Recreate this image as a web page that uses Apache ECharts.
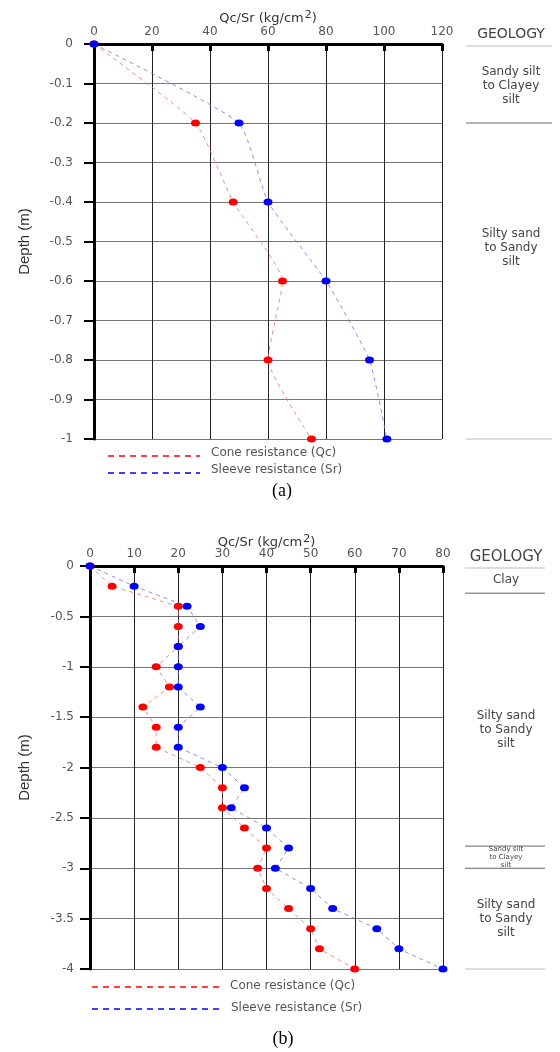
<!DOCTYPE html>
<html>
<head>
<meta charset="utf-8">
<script src="https://cdn.jsdelivr.net/npm/echarts@6/dist/echarts.min.js"></script>
<style>
  html, body { margin: 0; padding: 0; background: #fff; }
  #main { width: 560px; height: 1052px; }
</style>
</head>
<body>
<div id="main"></div>
<script>
// chart (a)
var depthA = [0, -0.2, -0.4, -0.6, -0.8, -1];
var qcA = [0, 35, 48, 65, 60, 75];
var srA = [0, 50, 60, 80, 95, 101];
var geoBoundsA = [0, -0.2, -1];
var geoNamesA = ['Sandy silt\nto Clayey\nsilt', 'Silty sand\nto Sandy\nsilt'];
var geoLabelDepthA = [-0.105, -0.515];

// chart (b)
var depthB = [0, -0.2, -0.4, -0.6, -0.8, -1, -1.2, -1.4, -1.6, -1.8, -2,
              -2.2, -2.4, -2.6, -2.8, -3, -3.2, -3.4, -3.6, -3.8, -4];
var qcB = [0, 5, 20, 20, 20, 15, 18, 12, 15, 15, 25, 30, 30, 35, 40, 38, 40, 45, 50, 52, 60];
var srB = [0, 10, 22, 25, 20, 20, 20, 25, 20, 20, 30, 35, 32, 40, 45, 42, 50, 55, 65, 70, 80];
var geoBoundsB = [0, -0.27, -2.78, -3.0, -4];
var geoNamesB = ['Clay', 'Silty sand\nto Sandy\nsilt', 'Sandy silt\nto Clayey\nsilt', 'Silty sand\nto Sandy\nsilt'];
var geoLabelDepthB = [-0.14, -1.63, -2.89, -3.5];

var seriesNames = ['Cone resistance (Qc)', 'Sleeve resistance (Sr)'];

var font = 'DejaVu Sans';
var myChart = echarts.init(document.getElementById('main'));

function pairs(xs, ys) {
    return xs.map(function (v, i) { return [v, ys[i]]; });
}

function xAx(idx, max, interval, gap) {
    return {
        type: 'value', gridIndex: idx, position: 'top', min: 0, max: max, interval: interval,
        name: 'Qc/Sr (kg/cm{sup|2})', nameLocation: 'middle', nameGap: gap, nameMoveOverlap: false,
        nameTextStyle: {
            color: '#333', fontSize: 13, fontFamily: font,
            rich: { sup: { fontSize: 11, fontFamily: font, color: '#333', padding: [0, 0, 6, 1] } }
        },
        axisLine: { show: true, onZero: false, lineStyle: { color: '#000', width: 3 } },
        axisTick: { show: true, inside: true, length: 7, lineStyle: { color: '#000', width: 3 } },
        axisLabel: { color: '#555', fontSize: 12, fontFamily: font, margin: 6 },
        splitLine: { show: true, lineStyle: { color: '#222', width: 1 } }
    };
}

function yAx(idx, min, interval, gap, margin) {
    return {
        type: 'value', gridIndex: idx, min: min, max: 0, interval: interval,
        name: 'Depth (m)', nameLocation: 'middle', nameGap: gap, nameRotate: 90,
        nameTextStyle: { color: '#333', fontSize: 15, fontFamily: 'Liberation Sans' },
        axisLine: { show: true, onZero: false, lineStyle: { color: '#000', width: 3 } },
        axisTick: { show: true, length: 10, lineStyle: { color: '#000', width: 2 } },
        axisLabel: {
            color: '#555', fontSize: 12, fontFamily: font, margin: margin,
            formatter: function (v) { return String(Math.round(v * 10) / 10); }
        },
        splitLine: { show: true, lineStyle: { color: '#777', width: 1 } }
    };
}

function ser(idx, xs, ys, color, lineColor, smooth) {
    return {
        type: 'line', xAxisIndex: idx, yAxisIndex: idx,
        data: pairs(xs, ys), smooth: smooth, clip: false,
        symbol: 'circle', symbolSize: [9, 7],
        itemStyle: { color: color },
        lineStyle: { color: lineColor, width: 0.8, type: [4, 4] }
    };
}

var option = {
    animation: false,
    backgroundColor: '#fff',
    grid: [
        { left: 94, top: 44, width: 348, height: 395 },
        { left: 90, top: 566, width: 353, height: 403 }
    ],
    xAxis: [xAx(0, 120, 20, 17), xAx(1, 80, 10, 15)],
    yAxis: [yAx(0, -1, 0.1, 62, 21), yAx(1, -4, 0.5, 58, 16)],
    series: [
        ser(0, qcA, depthA, '#f00', '#e87070', 0.15),
        ser(0, srA, depthA, '#00f', '#7070e8', 0.15),
        ser(1, qcB, depthB, '#f00', '#e87070', false),
        ser(1, srB, depthB, '#00f', '#7070e8', false)
    ]
};
myChart.setOption(option);

// geology column, legend and captions
function txt(text, x, y, size, align, fam, color) {
    return {
        type: 'text', silent: true,
        style: {
            text: text, x: x, y: y, fill: color || '#444',
            font: size + 'px ' + (fam || font), lineHeight: Math.round(size * 1.2),
            align: align || 'center', verticalAlign: 'middle',
            textAlign: align || 'center', textVerticalAlign: 'middle'
        }
    };
}
function ln(x1, y1, x2, y2, color, w, dash) {
    return {
        type: 'line', silent: true,
        shape: { x1: x1, y1: y1, x2: x2, y2: y2 },
        style: { stroke: color, lineWidth: w || 1, lineDash: dash || null }
    };
}

function geology(idx, bounds, names, labelDepths, x1, x2, cx, headerY, headSize, smallIdx) {
    var els = [];
    els.push(txt('GEOLOGY', cx, headerY, headSize, 'center', font, '#444'));
    bounds.forEach(function (d, i) {
        var y = myChart.convertToPixel({ gridIndex: idx }, [0, d])[1];
        if (i === 0) y += 2;
        var c = (i === 0 || i === bounds.length - 1) ? '#bbb' : '#666';
        els.push(ln(x1, y, x2, y, c, 1));
    });
    names.forEach(function (n, i) {
        var y = myChart.convertToPixel({ gridIndex: idx }, [0, labelDepths[i]])[1];
        var size = (i === smallIdx) ? 7 : 12;
        els.push(txt(n, cx, y, size, 'center', font, '#444'));
    });
    return els;
}

var g = [];
g = g.concat(geology(0, geoBoundsA, geoNamesA, geoLabelDepthA, 466, 552, 511, 34, 14, -1));
g = g.concat(geology(1, geoBoundsB, geoNamesB, geoLabelDepthB, 465, 545, 506, 557, 15, 2));

// legends
g.push(ln(108, 456, 200, 456, '#f00', 1.5, [6, 5]));
g.push(txt(seriesNames[0], 211, 453, 12, 'left', font, '#555'));
g.push(ln(108, 473, 200, 473, '#00f', 1.5, [6, 5]));
g.push(txt(seriesNames[1], 211, 470, 12, 'left', font, '#555'));
g.push(ln(92, 987, 222, 987, '#f00', 1.5, [6, 5]));
g.push(txt(seriesNames[0], 230, 986, 12, 'left', font, '#555'));
g.push(ln(92, 1009, 224, 1009, '#00f', 1.5, [6, 5]));
g.push(txt(seriesNames[1], 231, 1008, 12, 'left', font, '#555'));

// captions
g.push(txt('(a)', 282, 491, 18, 'center', 'Liberation Serif', '#000'));
g.push(txt('(b)', 283, 1039, 18, 'center', 'Liberation Serif', '#000'));

myChart.setOption({ graphic: g });
</script>
</body>
</html>
